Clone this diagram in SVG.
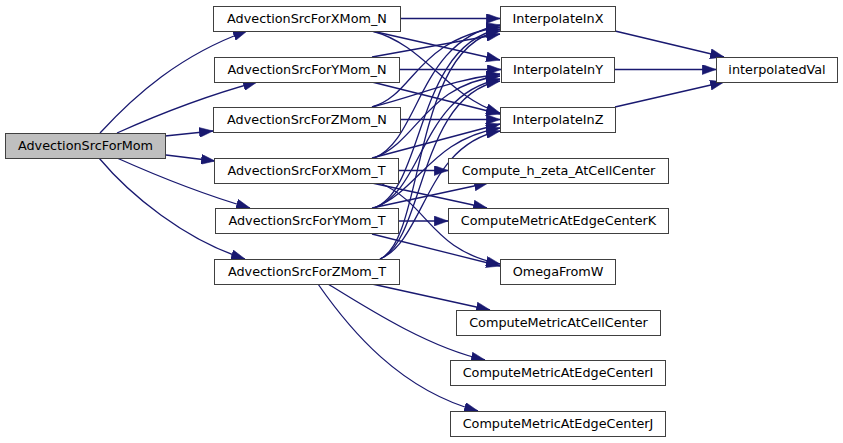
<svg xmlns="http://www.w3.org/2000/svg" width="843" height="443" viewBox="0 0 843 443">
<style>
.n rect{fill:#ffffff;stroke:#404040;stroke-width:1}
.n.root rect{fill:#bfbfbf}
.n text{font-family:"DejaVu Sans","Liberation Sans",sans-serif;font-size:12.8px;text-anchor:middle;fill:#000}
.e path{fill:none;stroke:#191970;stroke-width:1.3;marker-end:url(#ah)}
</style>
<defs>
<marker id="ah" markerUnits="userSpaceOnUse" markerWidth="14" markerHeight="10" viewBox="0 0 13 9.4" refX="13" refY="4.7" orient="auto">
<path d="M0,0 L13,4.7 L0,9.4 z" fill="#191970" stroke="#191970" stroke-width="0.5"/>
</marker>
</defs>
<rect width="843" height="443" fill="#ffffff"/>
<g id="edges" class="e">
<path d="M100,133 C135,95 180,55 247,31"/>
<path d="M117,133 C155,116 205,96 257,82"/>
<path d="M165,136 L213,131"/>
<path d="M166,155 L215,161"/>
<path d="M117,158 C155,175 205,195 250,208"/>
<path d="M99,158 C130,195 185,240 245,259"/>
<path d="M400,18.5 L500,18.5"/>
<path d="M372,31 L500,60"/>
<path d="M372,31 C425,45 445,95 500,113"/>
<path d="M372,57 L500,34"/>
<path d="M399,69.5 L501,69.5"/>
<path d="M372,82 L500,114"/>
<path d="M372,107 C415,95 415,40 500,27"/>
<path d="M372,107 C420,95 450,80 500,74"/>
<path d="M400,119.5 L500,119.5"/>
<path d="M374,158 C420,140 418,40 500,25"/>
<path d="M374,158 C420,140 425,85 500,76"/>
<path d="M372,158 L500,124"/>
<path d="M398,170.5 L448,170.5"/>
<path d="M372,183 L487,208"/>
<path d="M380,183 C430,205 430,250 500,264"/>
<path d="M374,208 C425,190 415,45 500,29"/>
<path d="M374,208 C425,190 420,95 500,79"/>
<path d="M374,208 C420,190 430,140 500,128"/>
<path d="M372,208 L488,183"/>
<path d="M398,221 L448,221"/>
<path d="M372,234 L500,266"/>
<path d="M380,259 C425,240 412,45 500,31"/>
<path d="M380,259 C425,240 418,95 500,81"/>
<path d="M380,259 C425,240 425,145 500,131"/>
<path d="M372,284 L490,310"/>
<path d="M328,284 C370,310 430,348 485,360"/>
<path d="M318,284 C350,330 400,390 478,411"/>
<path d="M615,31 L724,57"/>
<path d="M614,69.5 L716,69.5"/>
<path d="M615,107 L724,82"/>
</g>
<g id="AdvectionSrcForMom" class="n root"><rect x="5.5" y="133.5" width="160" height="25"/><text x="85.5" y="149.5">AdvectionSrcForMom</text></g>
<g id="AdvectionSrcForXMom_N" class="n"><rect x="213.5" y="6.5" width="187" height="25"/><text x="307" y="22.5">AdvectionSrcForXMom_N</text></g>
<g id="AdvectionSrcForYMom_N" class="n"><rect x="214.5" y="57.5" width="185" height="25"/><text x="307" y="73.5">AdvectionSrcForYMom_N</text></g>
<g id="AdvectionSrcForZMom_N" class="n"><rect x="213.5" y="107.5" width="187" height="25"/><text x="307" y="123.5">AdvectionSrcForZMom_N</text></g>
<g id="AdvectionSrcForXMom_T" class="n"><rect x="214.5" y="158.5" width="184" height="25"/><text x="306.5" y="174.5">AdvectionSrcForXMom_T</text></g>
<g id="AdvectionSrcForYMom_T" class="n"><rect x="215.5" y="208.5" width="183" height="25"/><text x="307" y="224.5">AdvectionSrcForYMom_T</text></g>
<g id="AdvectionSrcForZMom_T" class="n"><rect x="214.5" y="259.5" width="185" height="25"/><text x="307" y="275.5">AdvectionSrcForZMom_T</text></g>
<g id="InterpolateInX" class="n"><rect x="500.5" y="6.5" width="115" height="25"/><text x="558" y="22.5">InterpolateInX</text></g>
<g id="InterpolateInY" class="n"><rect x="501.5" y="57.5" width="113" height="25"/><text x="558" y="73.5">InterpolateInY</text></g>
<g id="InterpolateInZ" class="n"><rect x="500.5" y="107.5" width="115" height="25"/><text x="558" y="123.5">InterpolateInZ</text></g>
<g id="Compute_h_zeta_AtCellCenter" class="n"><rect x="448.5" y="158.5" width="220" height="25"/><text x="558.5" y="174.5">Compute_h_zeta_AtCellCenter</text></g>
<g id="ComputeMetricAtEdgeCenterK" class="n"><rect x="448.5" y="208.5" width="220" height="25"/><text x="558.5" y="224.5">ComputeMetricAtEdgeCenterK</text></g>
<g id="OmegaFromW" class="n"><rect x="500.5" y="259.5" width="115" height="25"/><text x="558" y="275.5">OmegaFromW</text></g>
<g id="ComputeMetricAtCellCenter" class="n"><rect x="456.5" y="310.5" width="204" height="25"/><text x="558.5" y="326.5">ComputeMetricAtCellCenter</text></g>
<g id="ComputeMetricAtEdgeCenterI" class="n"><rect x="450.5" y="360.5" width="215" height="25"/><text x="558" y="376.5">ComputeMetricAtEdgeCenterI</text></g>
<g id="ComputeMetricAtEdgeCenterJ" class="n"><rect x="450.5" y="411.5" width="215" height="25"/><text x="558" y="427.5">ComputeMetricAtEdgeCenterJ</text></g>
<g id="interpolatedVal" class="n"><rect x="716.5" y="57.5" width="121" height="25"/><text x="777" y="73.5">interpolatedVal</text></g>
</svg>
